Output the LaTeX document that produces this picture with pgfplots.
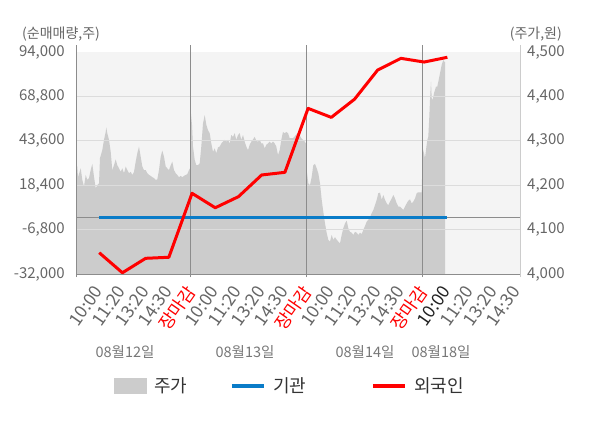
\documentclass[border=0pt]{standalone}
\usepackage{pgfplots}
\usepackage{pgfplotstable}
\pgfplotsset{compat=1.18}
\usepackage{fontspec}
\setmainfont{Noto Sans CJK KR}
\definecolor{bgc}{HTML}{F4F4F4}
\definecolor{areac}{HTML}{CCCCCC}
\definecolor{gridc}{HTML}{DCDCDC}
\definecolor{sepc}{HTML}{8C8C8C}
\definecolor{rax}{HTML}{CCCCCC}
\definecolor{tickc}{HTML}{666666}
\definecolor{datec}{HTML}{777777}
\definecolor{blue1}{HTML}{0A7CC8}
\definecolor{red1}{HTML}{FF0000}
\definecolor{legc}{HTML}{333333}
\definecolor{darkc}{HTML}{222222}

\pgfplotstableread{
t p
0 4243
1.3 4242
2 4218
4.7 4238
6.3 4212
8 4197
9.7 4223
11.3 4212
13 4216
14.7 4234
16.3 4248
18 4219
19.7 4193
21.3 4200
23 4204
24 4261
26.3 4279
28 4302
29.7 4320
30.3 4330
31.3 4317
33 4302
34.7 4275
36.3 4234
38 4245
39.7 4258
41.3 4245
43 4238
44.7 4230
46.3 4238
48 4227
49.7 4242
51.3 4234
53 4227
54.7 4230
56.3 4223
58 4230
59.7 4253
61.3 4272
63 4287
64.7 4264
66.3 4242
68 4234
69.7 4234
71.3 4227
73 4223
74.7 4221
76.3 4218
78 4216
79.7 4212
81.3 4213
83 4234
84.7 4264
86.3 4278
88 4264
89.7 4242
91.3 4238
93 4234
94.7 4245
96.3 4253
98 4234
99.7 4227
101.3 4223
103 4218
104.7 4221
106.3 4218
108 4221
109.7 4223
111.3 4225
113 4234
114 4238
114.7 4368
116 4336
117 4287
118.7 4257
120.3 4245
122 4245
123.7 4249
125.3 4287
127 4339
128.7 4358
130.3 4336
132 4324
133.7 4317
135.3 4294
137 4275
138.7 4283
140.3 4272
142 4285
143.7 4287
145.3 4294
147 4298
148.7 4302
150.3 4298
152 4302
153.7 4294
155.3 4313
157 4309
158.7 4317
160.3 4302
162 4313
163.7 4317
165.3 4302
167 4313
168.7 4298
170.3 4287
172 4279
173.7 4291
175.3 4298
177 4303
178.7 4309
180.3 4300
182 4298
183.7 4302
185.3 4294
187 4294
188.7 4283
190.3 4291
192 4294
193.7 4298
195.3 4294
197 4298
198.7 4294
200.3 4287
202 4268
203.7 4279
205.3 4302
207 4320
208.7 4317
210.3 4320
212 4317
213.7 4306
217 4306
222 4318
225.3 4306
228.7 4298
230 4294
230.7 4234
232.3 4204
234 4200
235.7 4219
237.3 4245
239 4248
240.7 4238
242.3 4227
244 4204
245.7 4167
247.3 4140
249 4114
250.7 4092
252.3 4077
254 4073
255.7 4088
257.3 4077
259 4083
260.7 4077
262.3 4073
264 4069
265.7 4088
267.3 4103
269 4114
270.7 4120
272.3 4103
274 4095
275.7 4093
277.3 4088
279 4095
280.7 4093
282.3 4088
284 4093
285.7 4090
287.3 4099
289 4108
290.7 4118
292.3 4122
294 4128
295.7 4137
297.3 4144
299 4155
300.7 4167
302.3 4182
304 4183
305.7 4167
307.3 4178
309 4167
310.7 4159
312.3 4155
314 4163
315.7 4170
317.3 4178
319 4170
320.7 4159
322.3 4152
324 4152
325.7 4148
327.3 4144
329 4152
330.7 4159
332.3 4165
334 4168
335.7 4159
337.3 4163
339 4170
340.7 4182
342.3 4184
345.7 4184
346.7 4283
348 4272
349 4261
350 4279
351.3 4302
352.3 4309
353.3 4354
354 4392
355 4433
355.7 4396
356.7 4392
358 4407
360 4422
361.3 4422
362.3 4433
364 4452
365.7 4471
367.3 4482
368.3 4478
369 4478
}\pricetable

\pgfplotstableread{
x y
0 -19900
1 -31300
2 -23100
3 -22500
4 13800
5 5600
6 11900
7 24200
8 25700
9 62000
10 56900
11 67200
12 83800
13 90400
14 88300
15 91000
}\foreigntable

\pgfplotstableread{
x y
0 0
1 0
2 0
3 0
4 0
5 0
6 0
7 0
8 0
9 0
10 0
11 0
12 0
13 0
14 0
15 0
}\insttable

\begin{document}
\begin{tikzpicture}
\path[use as bounding box] (0,0) rectangle (600bp,428bp);
\begin{axis}[
  at={(76bp,154bp)}, anchor=south west, width=444bp, height=222bp, scale only axis,
  xmin=0, xmax=444, ymin=4000, ymax=4500,
  axis x line=none, axis y line*=right,
  axis line style={-, draw=rax, line width=1bp},
  axis background/.style={fill=bgc},
  scaled y ticks=false,
  ytick={4000,4100,4200,4300,4400,4500},
  yticklabels={{4,000},{4,100},{4,200},{4,300},{4,400},{4,500}},
  major tick length=0pt,
  yticklabel style={font=\fontsize{15bp}{18bp}\selectfont, text=tickc, anchor=west, inner sep=0pt, xshift=7bp},
]
\addplot[fill=areac, draw=none] table[x=t,y=p] {\pricetable} \closedcycle;
\end{axis}
\begin{axis}[
  at={(76bp,154bp)}, anchor=south west, width=444bp, height=222bp, scale only axis,
  xmin=-1, xmax=18.13, ymin=-32000, ymax=94000,
  axis y line*=left, axis x line*=bottom,
  axis line style={-, draw=sepc, line width=1bp},
  scaled y ticks=false, scaled x ticks=false,
  ytick={-32000,-6800,18400,43600,68800,94000},
  yticklabels={{-32,000},{-6,800},{18,400},{43,600},{68,800},{94,000}},
  extra y ticks={-6800,18400,43600,68800},
  extra y tick labels={},
  extra y tick style={grid=major, major grid style={draw=gridc, line width=1.3bp}},
  xtick={0,...,18},
  xticklabels={10:00,11:20,13:20,14:30,\textcolor{red1}{장마감},10:00,11:20,13:20,14:30,\textcolor{red1}{장마감},10:00,11:20,13:20,14:30,\textcolor{red1}{장마감},\textcolor{darkc}{10:00},11:20,13:20,14:30},
  major tick length=0pt,
  yticklabel style={font=\fontsize{15bp}{18bp}\selectfont, text=tickc, anchor=east, inner sep=0pt, xshift=-11bp},
  xticklabel style={font=\fontsize{17.5bp}{20bp}\selectfont, text=tickc, anchor=east, inner sep=0pt, xshift=-1bp, yshift=-14bp, rotate=55},
  clip=false,
  legend style={at={(0.0856,-0.5045)}, anchor=west, draw=none, fill=none, inner sep=0pt, outer sep=0pt,
    font=\fontsize{18bp}{21bp}\selectfont, text=legc, column sep=0pt, row sep=0pt, nodes={inner sep=0pt}},
  legend columns=3,
  legend cell align=left,
]
\addlegendimage{legend image code/.code={\fill[areac] (0bp,-7.5bp) rectangle (32bp,7.5bp); \path (40bp,0bp);}}
\addlegendentry[text width=76bp]{주가}
\draw[sepc, line width=1bp] (axis cs:-1,0) -- (axis cs:18.13,0);
\draw[sepc, line width=1bp] ([yshift=-3bp]axis cs:3.94,-32000) -- ([yshift=7bp]axis cs:3.94,94000);
\draw[sepc, line width=1bp] ([yshift=-3bp]axis cs:8.94,-32000) -- ([yshift=7bp]axis cs:8.94,94000);
\draw[sepc, line width=1bp] ([yshift=-3bp]axis cs:13.94,-32000) -- ([yshift=7bp]axis cs:13.94,94000);
\draw[sepc, line width=1bp] ([yshift=-3bp]axis cs:-1,-32000) -- ([yshift=7bp]axis cs:-1,94000);
\draw[rax, line width=1bp] ([yshift=-3bp]axis cs:18.13,-32000) -- ([yshift=7bp]axis cs:18.13,94000);
\addplot[blue1, line width=3bp, legend image code/.code={\draw[blue1, line width=3bp] (0bp,0bp) -- (32bp,0bp); \path (40bp,0bp);}] table[x=x,y=y] {\insttable};
\addlegendentry[text width=98bp]{기관}
\addplot[red1, line width=3bp, line join=round, legend image code/.code={\draw[red1, line width=3bp] (0bp,0bp) -- (32bp,0bp); \path (40bp,0bp);}] table[x=x,y=y] {\foreigntable};
\addlegendentry{외국인}
\end{axis}
\node[anchor=west, inner sep=0pt, text=tickc, font=\fontsize{14bp}{17bp}\selectfont] at (22bp,394bp) {(순매매량,주)};
\node[anchor=east, inner sep=0pt, text=tickc, font=\fontsize{14bp}{17bp}\selectfont] at (562bp,394bp) {(주가,원)};
\node[inner sep=0pt, text=datec, font=\fontsize{14.5bp}{17bp}\selectfont] at (125bp,76bp) {08월12일};
\node[inner sep=0pt, text=datec, font=\fontsize{14.5bp}{17bp}\selectfont] at (245bp,76bp) {08월13일};
\node[inner sep=0pt, text=datec, font=\fontsize{14.5bp}{17bp}\selectfont] at (365bp,76bp) {08월14일};
\node[inner sep=0pt, text=datec, font=\fontsize{14.5bp}{17bp}\selectfont] at (441bp,76bp) {08월18일};
\end{tikzpicture}
\end{document}
